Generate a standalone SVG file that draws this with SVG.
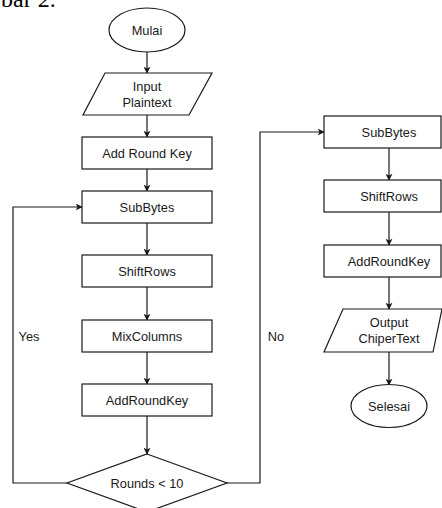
<svg xmlns="http://www.w3.org/2000/svg" width="442" height="508" viewBox="0 0 442 508">
<defs>
<marker id="ah" viewBox="0 0 10 10" refX="9" refY="5" markerWidth="7" markerHeight="7" markerUnits="userSpaceOnUse" orient="auto">
<path d="M0,0 L10,5 L0,10 L2.5,5 Z" fill="#1a1a1a"/>
</marker>
<style>
.s{fill:#fff;stroke:#1a1a1a;stroke-width:1.2}
.t{font-family:"Liberation Sans",Arial,sans-serif;font-size:12.8px;fill:#1a1a1a;text-anchor:middle}
.c{fill:none;stroke:#1a1a1a;stroke-width:1.2;marker-end:url(#ah)}
</style>
</defs>
<rect width="442" height="508" fill="#fff"/>
<text x="1" y="7" font-family="'Liberation Serif',serif" font-size="24" fill="#000">bar 2.</text>
<g id="connectors">
<path class="c" d="M147,52 V73"/>
<path class="c" d="M147,115 V137"/>
<path class="c" d="M147,169 V191"/>
<path class="c" d="M147,223 V255"/>
<path class="c" d="M147,287 V320"/>
<path class="c" d="M147,352 V384"/>
<path class="c" d="M147,416 V454"/>
<path class="c" d="M67,483 H13 V207 H82"/>
<path class="c" d="M227,483 H260 V132 H324"/>
<path class="c" d="M389,148 V180"/>
<path class="c" d="M389,212 V245"/>
<path class="c" d="M389,277 V309"/>
<path class="c" d="M389,352 V385"/>
<text class="t" x="29" y="341">Yes</text>
<text class="t" x="276" y="341">No</text>
</g>
<g id="mulai"><ellipse class="s" cx="147" cy="30" rx="38" ry="22"/><text class="t" x="147" y="34.5">Mulai</text></g>
<g id="input"><polygon class="s" points="105,73 212,73 189,115 83,115"/><text class="t" x="147" y="91">Input</text><text class="t" x="147" y="107">Plaintext</text></g>
<g id="addroundkey0"><rect class="s" x="82" y="137" width="130" height="32"/><text class="t" x="147" y="157.5">Add Round Key</text></g>
<g id="subbytes1"><rect class="s" x="82" y="191" width="130" height="32"/><text class="t" x="147" y="211.5">SubBytes</text></g>
<g id="shiftrows1"><rect class="s" x="82" y="255" width="130" height="32"/><text class="t" x="147" y="275.5">ShiftRows</text></g>
<g id="mixcolumns"><rect class="s" x="82" y="320" width="130" height="32"/><text class="t" x="147" y="340.5">MixColumns</text></g>
<g id="addroundkey1"><rect class="s" x="82" y="384" width="130" height="32"/><text class="t" x="147" y="404.5">AddRoundKey</text></g>
<g id="rounds"><polygon class="s" points="147,454 227,483 147,512 67,483"/><text class="t" x="147" y="487.5">Rounds &lt; 10</text></g>
<g id="subbytes2"><rect class="s" x="324" y="116" width="117" height="32"/><text class="t" x="389" y="136.5">SubBytes</text></g>
<g id="shiftrows2"><rect class="s" x="324" y="180" width="117" height="32"/><text class="t" x="389" y="200.5">ShiftRows</text></g>
<g id="addroundkey2"><rect class="s" x="324" y="245" width="117" height="32"/><text class="t" x="389" y="265.5">AddRoundKey</text></g>
<g id="output"><polygon class="s" points="343,309 442,309 433,352 324,352"/><text class="t" x="389" y="327">Output</text><text class="t" x="389" y="343">ChiperText</text></g>
<g id="selesai"><ellipse class="s" cx="389" cy="406" rx="38" ry="21.5"/><text class="t" x="389" y="410.5">Selesai</text></g>
</svg>
